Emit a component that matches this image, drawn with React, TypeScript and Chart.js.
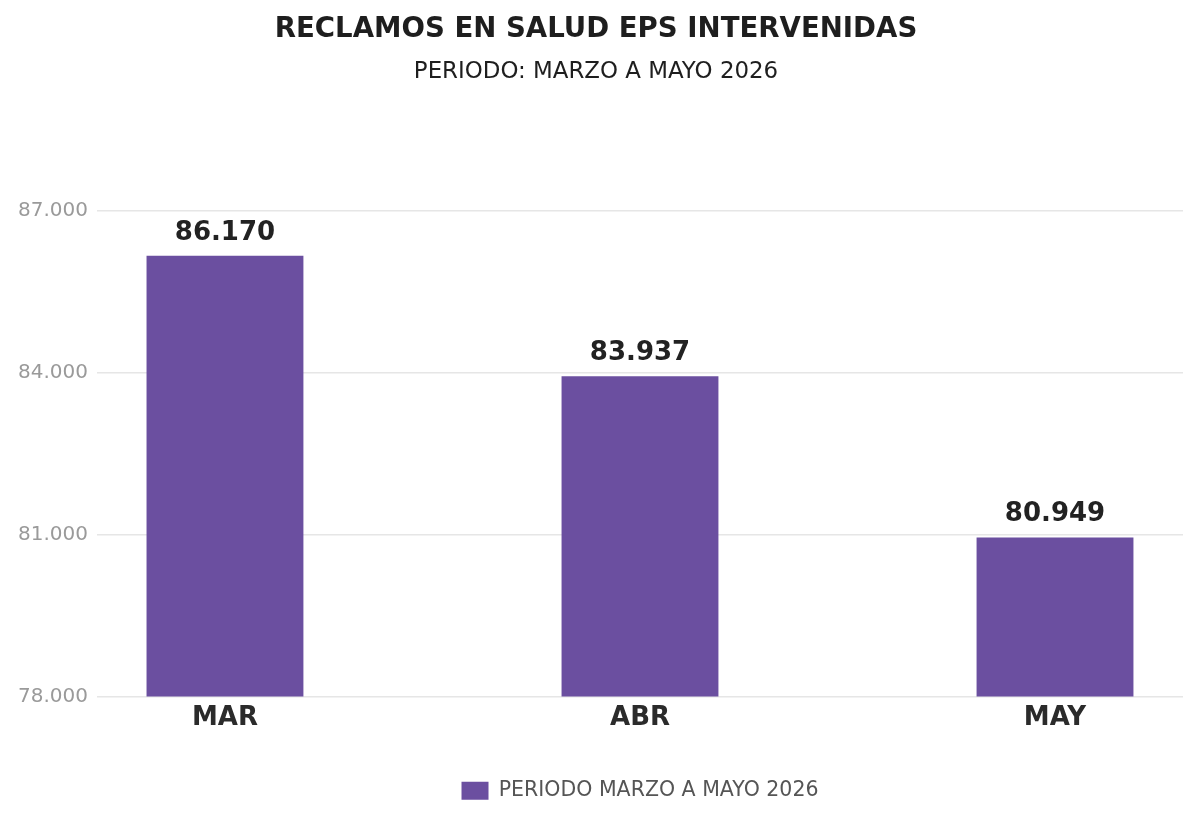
import { useEffect, useRef } from "react";
import Chart from "chart.js/auto";

const months = ["MAR", "ABR", "MAY"];
const reclamos = [86170, 83937, 80949];
const seriesLabel = "PERIODO MARZO A MAYO 2026";
const yTicks = [78000, 81000, 84000, 87000];

const FONT = "'DejaVu Sans', sans-serif";
const PURPLE = "#6b4fa0";

// 86170 -> "86.170"
const fmt = (v: number) => String(Math.round(v)).replace(/\B(?=(\d{3})+(?!\d))/g, ".");

const valueLabels = {
  id: "valueLabels",
  afterDatasetsDraw(chart: Chart) {
    const { ctx } = chart;
    const meta = chart.getDatasetMeta(0);
    ctx.save();
    ctx.font = `bold 26px ${FONT}`;
    ctx.fillStyle = "#222222";
    ctx.textAlign = "center";
    ctx.textBaseline = "middle";
    meta.data.forEach((bar, i) => {
      ctx.fillText(fmt(reclamos[i]), bar.x, bar.y - 23);
    });
    ctx.restore();
  },
};

export default function App() {
  const canvasRef = useRef<HTMLCanvasElement | null>(null);

  useEffect(() => {
    document.body.style.margin = "0";
    if (!canvasRef.current) return;
    const chart = new Chart(canvasRef.current, {
      type: "bar",
      data: {
        datasets: [
          {
            label: seriesLabel,
            data: reclamos.map((v, i) => ({ x: i, y: v })),
            backgroundColor: PURPLE,
            borderWidth: 0,
            categoryPercentage: 1,
            barPercentage: 0.378,
          },
        ],
      },
      options: {
        animation: false,
        responsive: false,
        devicePixelRatio: 1,
        layout: { padding: { left: 9, right: 17, top: 0, bottom: 15 } },
        scales: {
          x: {
            type: "linear",
            offset: false,
            bounds: "data",
            min: -0.3084,
            max: 2.3084,
            afterBuildTicks: (scale: any) => {
              scale.ticks = months.map((_, i) => ({ value: i }));
            },
            ticks: {
              padding: 6,
              color: "#2b2b2b",
              font: { family: FONT, size: 26, weight: "bold" },
              callback: (v: any) => months[Number(v)] ?? "",
              maxRotation: 0,
              autoSkip: false,
            },
            grid: { display: false, drawTicks: false, offset: false },
            border: { display: false },
            title: { display: true, text: "", font: { size: 10 }, padding: { top: 0, bottom: 18.8 } },
          },
          y: {
            min: 78000,
            max: 87000,
            afterBuildTicks: (scale: any) => {
              scale.ticks = yTicks.map((v) => ({ value: v }));
            },
            ticks: {
              padding: 9,
              color: "#9a9a9a",
              font: { family: FONT, size: 20 },
              callback: (v: any) => fmt(Number(v)),
            },
            grid: { color: "#e6e6e6", lineWidth: 1.5, drawTicks: false },
            border: { display: false },
          },
        },
        plugins: {
          title: {
            display: true,
            text: "RECLAMOS EN SALUD EPS INTERVENIDAS",
            color: "#1e1e1e",
            font: { family: FONT, size: 27.6, weight: "bold" },
            padding: { top: 13, bottom: 11.2 },
          },
          subtitle: {
            display: true,
            text: "PERIODO: MARZO A MAYO 2026",
            color: "#1e1e1e",
            font: { family: FONT, size: 22.9 },
            padding: { top: 1, bottom: 125.2 },
          },
          legend: {
            position: "bottom",
            fullSize: false,
            labels: {
              color: "#555555",
              font: { family: FONT, size: 20.5 },
              boxWidth: 27,
              boxHeight: 18,
              padding: 10,
            },
          },
          tooltip: { enabled: false },
        },
      },
      plugins: [valueLabels],
    });

    return () => chart.destroy();
  }, []);

  return (
    <div style={{ width: 1200, height: 826, background: "#ffffff" }}>
      <canvas ref={canvasRef} width={1200} height={826} />
    </div>
  );
}
